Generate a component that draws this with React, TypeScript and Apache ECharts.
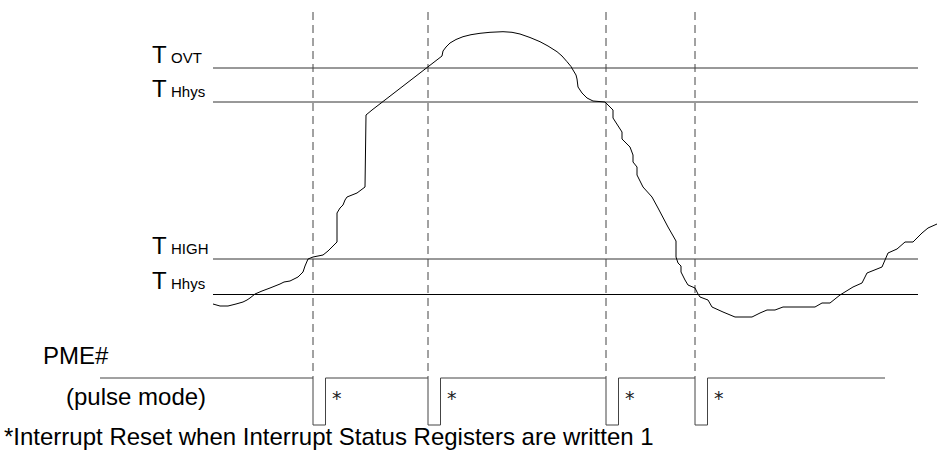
import React, { useEffect, useRef } from "react";
import * as echarts from "echarts";

// Temperature curve (x = time position, y = level on the inverted screen scale)
const tempX = [213, 220, 228, 236, 243, 247, 250, 255, 262, 270, 280, 284, 290, 298, 303, 305, 308, 313, 323, 328, 333, 337, 337, 340, 343, 345, 347, 352, 357, 365, 366, 372, 442, 443, 446, 450, 456, 463, 471, 480, 490, 503, 512, 520, 530, 540, 548, 557, 562, 567, 571, 573, 576, 577, 578, 582, 587, 593, 605, 608, 613, 613, 622, 622, 630, 633, 633, 637, 637, 643, 652, 658, 668, 676, 676, 678, 681, 681, 685, 688, 695, 698, 700, 708, 712, 723, 735, 752, 760, 767, 775, 783, 815, 822, 830, 840, 853, 862, 867, 882, 888, 897, 905, 913, 922, 928, 937];
const tempY = [304, 306, 306, 304, 302, 300, 298, 294, 291, 288, 284, 282, 281, 277, 272, 266, 259, 257, 255, 251, 246, 242, 213, 208, 205, 200, 197, 195, 193, 187, 115, 110, 56, 51, 47, 43, 39.5, 36.7, 34.7, 33.3, 32.3, 31.7, 32.3, 34, 37.5, 41.7, 46, 51.7, 56, 61.7, 66.5, 70, 75, 79, 87, 93, 98, 101, 102, 105, 110, 118, 132, 139, 147, 155, 162, 167, 175, 187, 197, 208, 227, 241, 257, 263, 266, 272, 280, 285, 288, 294, 297, 300, 307, 312, 317, 317, 313, 310, 310, 307, 307, 303, 303, 295, 287, 283, 273, 267, 253, 249, 242, 242, 233, 228, 224];

// Threshold levels
const thresholdSubs = ["OVT", "Hhys", "HIGH", "Hhys"];
const thresholdLevels = [68, 102, 259, 294.5];
const thresholdRange = [213, 918];

// Interrupt events (dashed markers) and PME# pulse waveform
const eventTimes = [313, 428, 606, 695];
const pulseWidth = 12.5;
const pmeHigh = 378;
const pmeLow = 425;
const pmeRange = [100, 885];
const markerTop = 12;

const pmeLabel = "PME#";
const pulseModeLabel = "(pulse mode)";
const footnote = "*Interrupt Reset when Interrupt Status Registers are written 1";

const FONT = "'Liberation Sans', Arial, Helvetica, sans-serif";

export default function App() {
  const ref = useRef<HTMLDivElement>(null);
  useEffect(() => {
    if (!ref.current) return;
    const chart = echarts.init(ref.current, undefined, { renderer: "svg" });

    const series: any[] = [];
    thresholdLevels.forEach((lv, i) => {
      series.push({
        type: "line",
        data: [[thresholdRange[0], lv], [thresholdRange[1], lv]],
        symbol: "none",
        lineStyle: { color: i === 3 ? "#000" : "#333", width: 1 },
        silent: true,
      });
    });
    eventTimes.forEach((t) => {
      series.push({
        type: "line",
        data: [[t, markerTop], [t, pmeHigh]],
        symbol: "none",
        lineStyle: { color: "#444", width: 1, type: [8, 5] },
        silent: true,
      });
    });
    const pme: number[][] = [[pmeRange[0], pmeHigh]];
    eventTimes.forEach((t) => {
      pme.push([t, pmeHigh], [t, pmeLow], [t + pulseWidth, pmeLow], [t + pulseWidth, pmeHigh]);
    });
    pme.push([pmeRange[1], pmeHigh]);
    series.push({
      type: "line",
      data: pme,
      symbol: "none",
      lineStyle: { color: "#444", width: 1 },
      silent: true,
    });
    series.push({
      type: "line",
      data: tempX.map((x, i) => [x, tempY[i]]),
      symbol: "none",
      lineStyle: { color: "#000", width: 1 },
      silent: true,
    });

    chart.setOption({
      animation: false,
      grid: { left: 0, top: 0, right: 0, bottom: 0, containLabel: false },
      xAxis: { type: "value", min: 0, max: 938, show: false },
      yAxis: { type: "value", min: 0, max: 457, inverse: true, show: false },
      series,
    });

    const px = (x: number, y: number) => chart.convertToPixel({ gridIndex: 0 }, [x, y]) as number[];
    const graphics: any[] = [];
    thresholdLevels.forEach((lv, i) => {
      const pT = px(152, lv - 14);
      const pS = px(171, lv - 11);
      graphics.push({
        type: "text",
        x: pT[0],
        y: pT[1],
        style: { text: "T", fontSize: 24, fontFamily: FONT, fill: "#000", align: "left", verticalAlign: "middle" },
      });
      graphics.push({
        type: "text",
        x: pS[0],
        y: pS[1],
        style: { text: thresholdSubs[i], fontSize: 15, fontFamily: FONT, fill: "#000", align: "left", verticalAlign: "middle" },
      });
    });
    eventTimes.forEach((t) => {
      const p = px(t + 19, 398);
      graphics.push({
        type: "text",
        x: p[0],
        y: p[1],
        style: { text: "*", fontSize: 19, fontFamily: "'DejaVu Sans', sans-serif", fill: "#222", align: "left", verticalAlign: "middle" },
      });
    });
    const pP = px(43, 355);
    graphics.push({
      type: "text",
      x: pP[0],
      y: pP[1],
      style: { text: pmeLabel, fontSize: 24, fontFamily: FONT, fill: "#000", align: "left", verticalAlign: "middle" },
    });
    const pM = px(66, 396);
    graphics.push({
      type: "text",
      x: pM[0],
      y: pM[1],
      style: { text: pulseModeLabel, fontSize: 24, fontFamily: FONT, fill: "#000", align: "left", verticalAlign: "middle" },
    });
    const pF = px(4, 436);
    graphics.push({
      type: "text",
      x: pF[0],
      y: pF[1],
      style: { text: footnote, fontSize: 24, fontFamily: FONT, fill: "#000", align: "left", verticalAlign: "middle" },
    });
    chart.setOption({ graphic: graphics });

    return () => chart.dispose();
  }, []);

  return (
    <div
      ref={ref}
      style={{ position: "fixed", left: 0, top: 0, width: 938, height: 457, background: "#fff" }}
    />
  );
}
